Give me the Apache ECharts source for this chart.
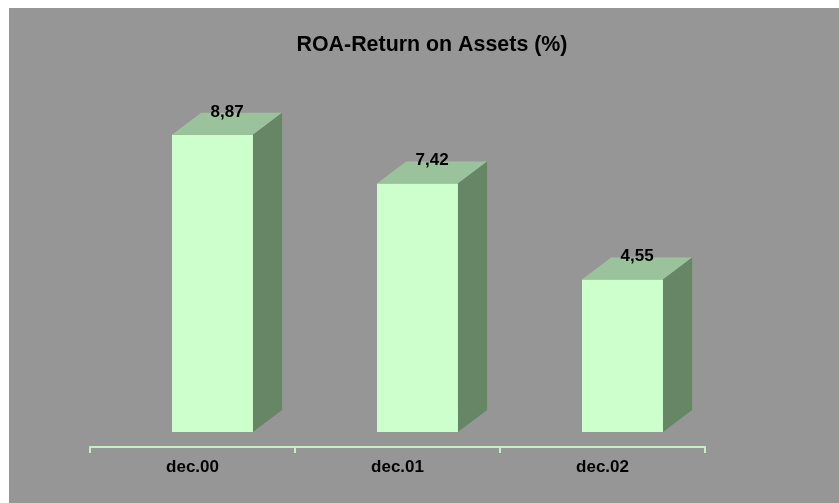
<!DOCTYPE html>
<html>
<head>
<meta charset="utf-8">
<script src="https://cdn.jsdelivr.net/npm/echarts@6/dist/echarts.min.js"></script>
<style>
  html, body { margin: 0; padding: 0; background: #ffffff; }
  #chart { width: 839px; height: 503px; }
</style>
</head>
<body>
<div id="chart"></div>
<script>
const categories = ['dec.00', 'dec.01', 'dec.02'];
const roa_values = [8.87, 7.42, 4.55];

const front_color = '#ccffcc';
const top_color = '#9bc39b';
const side_color = '#668666';

let chart = echarts.init(document.getElementById('chart'));

// 3d looking bar: front face, top face, right side face
function render_bar(params, api) {
    let idx = api.value(0);
    let top_pt = api.coord([idx, api.value(1)]);
    let base_pt = api.coord([idx, 0]);
    let band = api.size([1, 0])[0];
    let x0 = top_pt[0] - band * 0.1;
    let w = band * 0.395;
    let dx = band * 0.142;
    let dy = 22;
    let yt = top_pt[1];
    let yb = base_pt[1];
    return {
        type: 'group',
        children: [
            { type: 'rect', shape: { x: x0, y: yt, width: w, height: yb - yt }, style: { fill: front_color } },
            { type: 'polygon', shape: { points: [[x0, yt], [x0 + w, yt], [x0 + w + dx, yt - dy], [x0 + dx, yt - dy]] }, style: { fill: top_color } },
            { type: 'polygon', shape: { points: [[x0 + w, yt], [x0 + w + dx, yt - dy], [x0 + w + dx, yb - dy], [x0 + w, yb]] }, style: { fill: side_color } },
            {
                type: 'text',
                style: {
                    x: x0 + (w + dx) / 2, y: yt - dy - 1,
                    text: api.value(1).toFixed(2).replace('.', ','),
                    align: 'center', verticalAlign: 'middle',
                    font: 'bold 17px "Liberation Sans", Arial, sans-serif', fill: '#000000'
                }
            }
        ]
    };
}

chart.setOption({
    animation: false,
    backgroundColor: '#ffffff',
    graphic: [
        { type: 'rect', z: -10, shape: { x: 9, y: 8, width: 830, height: 495 }, style: { fill: '#969696' } }
    ],
    title: {
        text: 'ROA-Return on Assets (%)',
        left: 432, top: 35, padding: 0, textAlign: 'center',
        textStyle: { fontFamily: '"Liberation Sans", Arial, sans-serif', fontSize: 21.4, fontWeight: 'bold', color: '#000000' }
    },
    grid: { left: 90, right: 134, top: 97, bottom: 71 },
    xAxis: {
        type: 'category',
        data: categories,
        offset: 15,
        axisLine: { onZero: false, lineStyle: { color: '#c4eec4', width: 2 } },
        axisTick: { show: true, length: 6, lineStyle: { color: '#c4eec4', width: 2 } },
        axisLabel: { margin: 12, fontFamily: '"Liberation Sans", Arial, sans-serif', fontSize: 17, fontWeight: 'bold', color: '#000000' },
        splitLine: { show: false }
    },
    yAxis: { type: 'value', min: 0, max: 10, show: false },
    series: [{
        type: 'custom',
        renderItem: render_bar,
        encode: { x: 0, y: 1 },
        data: roa_values.map((v, i) => [i, v])
    }]
});
</script>
</body>
</html>
